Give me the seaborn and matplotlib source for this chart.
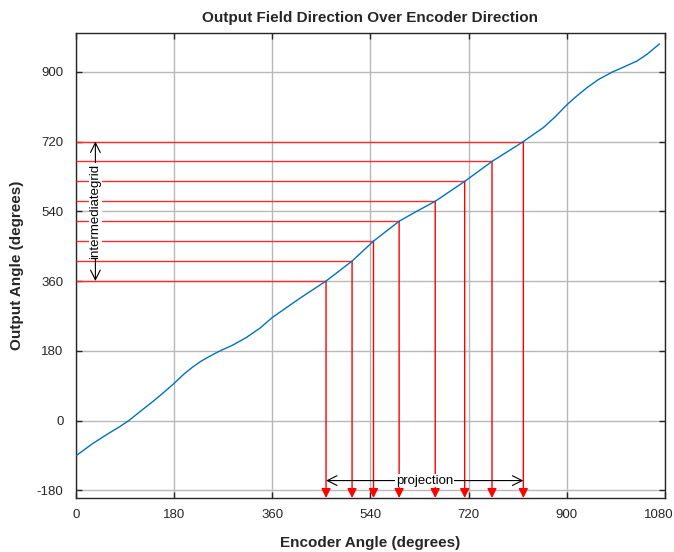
import matplotlib
matplotlib.use("Agg")
import matplotlib.pyplot as plt
import matplotlib.transforms as mtransforms
import seaborn as sns
import pandas as pd

# Encoder angle vs. resulting output field angle (degrees)
enc_angle = [0, 30, 60, 80, 97, 121, 140, 158, 180, 198, 213, 228, 244, 263,
             288, 312, 337, 360, 410, 458.5, 506.2, 545.5, 592.5, 621, 658.7,
             712.7, 762.8, 805, 820.3, 857, 878.5, 901, 918.4, 937, 958,
             983, 1004, 1029, 1047, 1070]
out_angle = [-91, -60, -33, -16, 0, 27, 48, 69, 96, 120, 137, 152, 165, 179,
             195, 214, 238, 266, 315, 360, 411.4, 462.9, 514.3, 537, 565.7,
             617.1, 668.6, 706, 720, 756, 783.5, 816, 837.5, 859, 880,
             899, 912, 928, 945, 972]

# Evenly spaced output levels and the encoder angles that produce them
level_out = [360, 411.4, 462.9, 514.3, 565.7, 617.1, 668.6, 720]
level_enc = [458.5, 506.2, 545.5, 592.5, 658.7, 712.7, 762.8, 820.3]

x_ticks = [0, 180, 360, 540, 720, 900, 1080]
y_ticks = [-180, 0, 180, 360, 540, 720, 900]

sns.set_theme(style="white")
plt.rcParams["font.family"] = ["Liberation Sans", "DejaVu Sans"]

fig = plt.figure(figsize=(6.74, 5.52), dpi=100)
fig.subplots_adjust(left=0.1128, right=0.9866, bottom=0.0978, top=0.9402)
ax = fig.add_subplot(111)

df = pd.DataFrame({"enc": enc_angle, "out": out_angle})
sns.lineplot(data=df, x="enc", y="out", ax=ax, color="#0072BD",
             linewidth=1.0, zorder=5, sort=False)

ax.set_xlim(0, 1080)
ax.set_ylim(-200, 1000)
ax.set_xticks(x_ticks)
ax.set_yticks(y_ticks)
ax.set_xticklabels([str(v) for v in x_ticks])
ax.set_yticklabels([str(v) for v in y_ticks])

ax.grid(True, color="#b8b8b8", linewidth=1.0)
ax.set_axisbelow(True)
for s in ax.spines.values():
    s.set_color("#262626")
    s.set_linewidth(1.0)
ax.tick_params(direction="in", length=4, width=1, color="#262626",
               labelsize=9.5, labelcolor="#262626",
               top=True, right=True, bottom=True, left=True)
ax.tick_params(axis="y", pad=9)
ax.tick_params(axis="x", pad=8)

# keep the last encoder tick label inside the figure
last = ax.get_xticklabels()[-1]
last.set_transform(last.get_transform() +
                   mtransforms.ScaledTranslation(-4.5 / 72, 0, fig.dpi_scale_trans))

# Horizontal guides from the axis to the curve
ax.hlines(level_out, 0, level_enc, color="#ff2a2a", linewidth=1.0, zorder=3)

# Vertical projections down to the encoder axis
for xe, yo in zip(level_enc, level_out):
    ax.annotate("", xy=(xe, -200), xytext=(xe, yo),
                arrowprops=dict(arrowstyle="-|>,head_length=0.4,head_width=0.2",
                                color="red", lw=1.0, mutation_scale=14,
                                shrinkA=0, shrinkB=0),
                annotation_clip=False, zorder=3)

# Span markers
ax.annotate("", xy=(35.5, 720), xytext=(35.5, 360),
            arrowprops=dict(arrowstyle="<->,head_length=0.5,head_width=0.25",
                            color="black", lw=0.8,
                            mutation_scale=14, shrinkA=0, shrinkB=0), zorder=6)
ax.text(35.5, 540, "intermediategrid", rotation=90, ha="center", va="center",
        fontsize=9.5, color="black", zorder=7,
        bbox=dict(facecolor="white", edgecolor="none", pad=0.5))

ax.annotate("", xy=(level_enc[0], -155), xytext=(level_enc[-1], -155),
            arrowprops=dict(arrowstyle="<->,head_length=0.5,head_width=0.25",
                            color="black", lw=0.8,
                            mutation_scale=14, shrinkA=0, shrinkB=0), zorder=6)
ax.text((level_enc[0] + level_enc[-1]) / 2, -155, "projection", ha="center",
        va="center", fontsize=9.5, color="black", zorder=7,
        bbox=dict(facecolor="white", edgecolor="none", pad=0.5))

ax.set_title("Output Field Direction Over Encoder Direction",
             fontsize=11, fontweight="bold", pad=8)
ax.set_xlabel("Encoder Angle (degrees)", fontsize=11, fontweight="bold",
              labelpad=10.5)
ax.set_ylabel("Output Angle (degrees)", fontsize=11, fontweight="bold",
              labelpad=9.5)

fig.savefig("out.png", dpi=100)
